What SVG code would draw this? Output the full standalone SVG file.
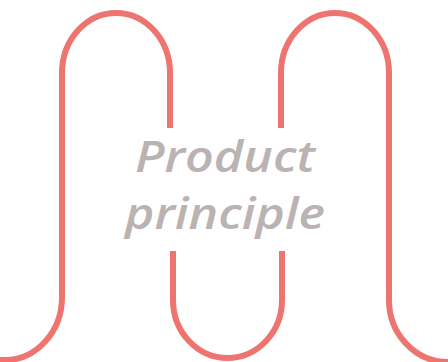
<svg xmlns="http://www.w3.org/2000/svg" width="448" height="362" viewBox="0 0 448 362">
<style>
.wave{fill:none;stroke:#ee7470;stroke-width:6;stroke-linecap:butt;stroke-linejoin:round}
.lbl{font-family:"Open Sans","Liberation Sans",sans-serif;font-style:italic;font-weight:600;font-size:44px;fill:#bab3b1}
</style>
<rect width="448" height="362" fill="#ffffff"/>
<g id="connectors">
<path class="wave" d="M -10,360 L 5,360 A 57 63 0 0 0 62,297 L 62,73 A 54 60 0 0 1 170,73 L 170,128"/>
<path class="wave" d="M 173,251 L 173,300 A 54.5 58 0 0 0 282,300 L 282,251"/>
<path class="wave" d="M 281,128 L 281,73 A 54 60 0 0 1 389,73 L 389,300 A 59 62 0 0 0 448,362"/>
</g>
<g id="label">
<text class="lbl" x="135" y="172" textLength="180" lengthAdjust="spacingAndGlyphs">Product</text>
<text class="lbl" x="125" y="229" textLength="200" lengthAdjust="spacingAndGlyphs">principle</text>
</g>
</svg>
